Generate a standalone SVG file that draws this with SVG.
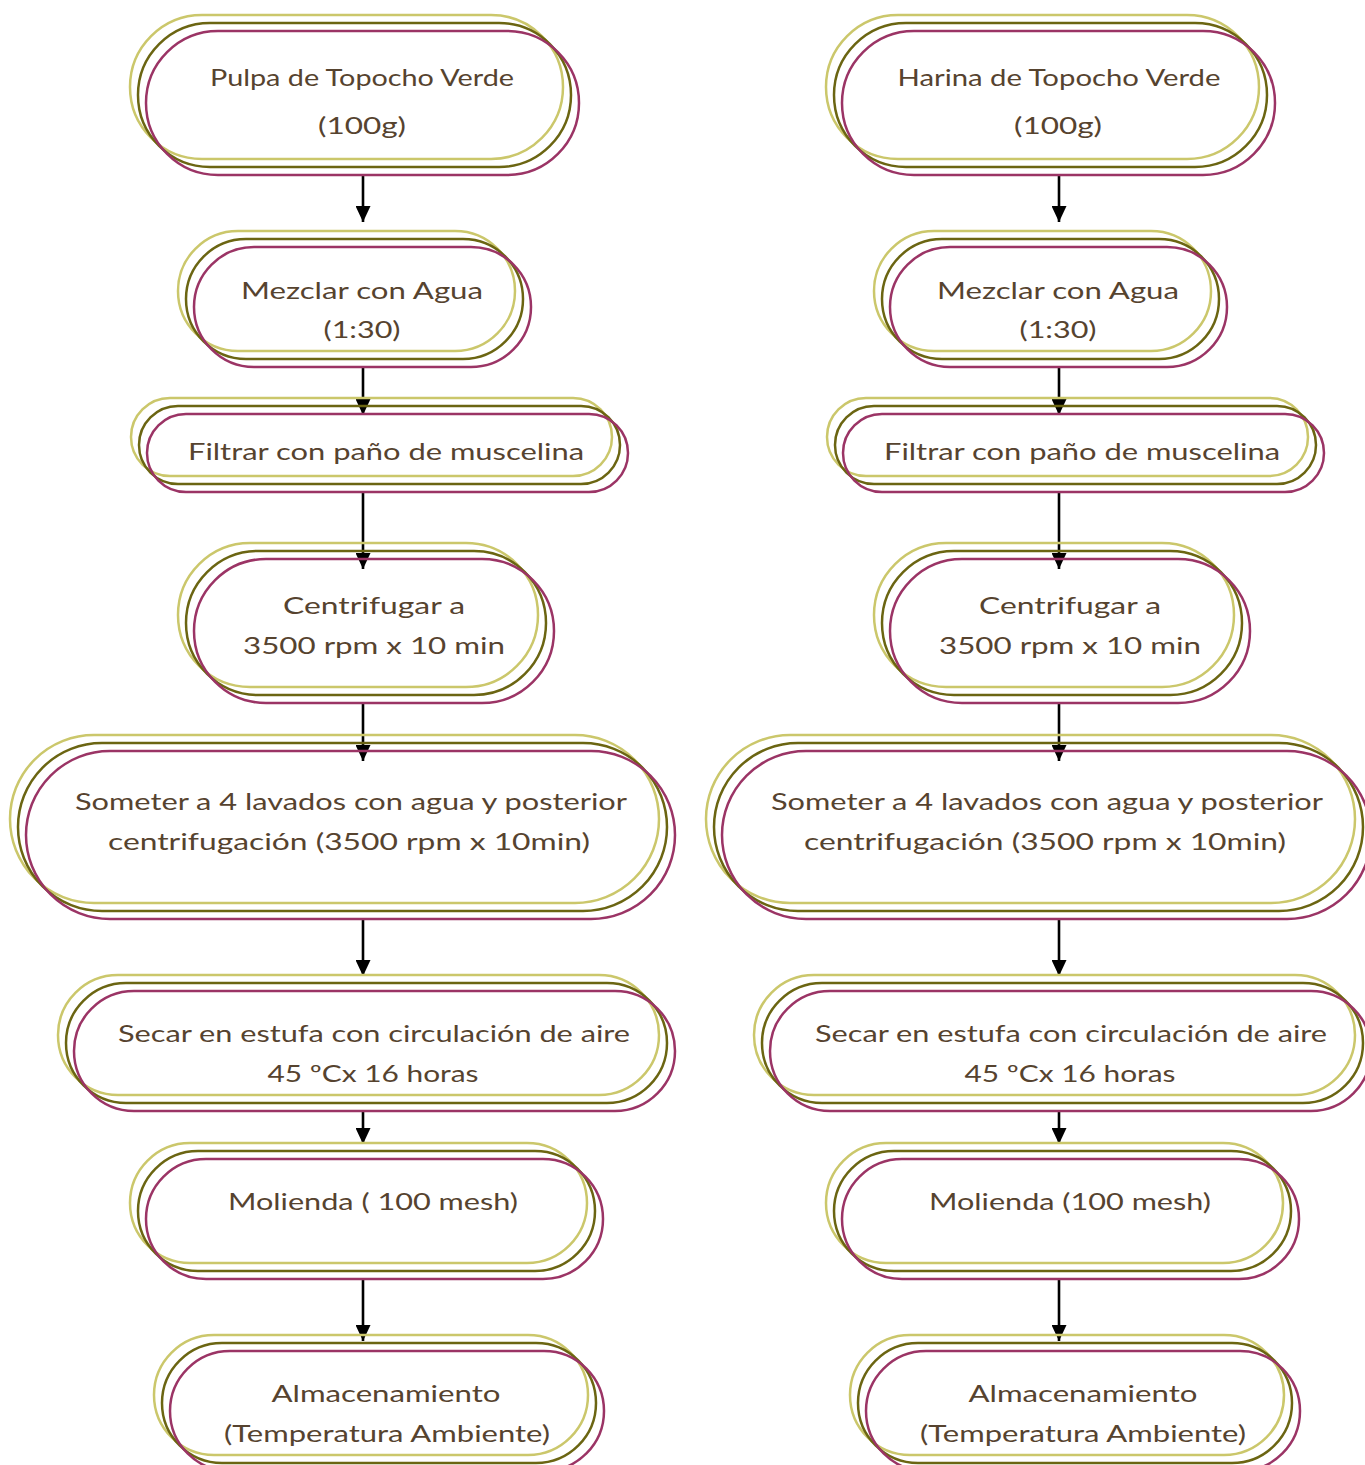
<svg xmlns="http://www.w3.org/2000/svg" width="1365" height="1465" viewBox="0 0 1365 1465">
<style>
.l{fill:none;stroke:#cbc76b;stroke-width:2.5}
.o{fill:none;stroke:#6b6512;stroke-width:2.5}
.m{fill:none;stroke:#9b3465;stroke-width:2.5}
.t{font-family:"Lato","Liberation Sans",sans-serif;font-size:24px;fill:#56432f;text-anchor:middle}
.c{stroke:#000;stroke-width:2.6;fill:none;marker-end:url(#ah)}
</style>
<defs>
<marker id="ah" viewBox="0 0 16 15" refX="16" refY="7.5" markerUnits="userSpaceOnUse" markerWidth="16" markerHeight="15" orient="auto">
<path d="M0,0 L16,7.5 L0,15 z" fill="#000"/>
</marker>
</defs>
<rect width="1365" height="1465" fill="#fff"/>
<g id="connectors">
<line class="c" x1="363" y1="175" x2="363" y2="222"/>
<line class="c" x1="363" y1="367" x2="363" y2="415"/>
<line class="c" x1="363" y1="492" x2="363" y2="569"/>
<line class="c" x1="363" y1="703" x2="363" y2="761"/>
<line class="c" x1="363" y1="919" x2="363" y2="976"/>
<line class="c" x1="363" y1="1111" x2="363" y2="1144"/>
<line class="c" x1="363" y1="1279" x2="363" y2="1341"/>
<line class="c" x1="1059" y1="175" x2="1059" y2="222"/>
<line class="c" x1="1059" y1="367" x2="1059" y2="415"/>
<line class="c" x1="1059" y1="492" x2="1059" y2="569"/>
<line class="c" x1="1059" y1="703" x2="1059" y2="761"/>
<line class="c" x1="1059" y1="919" x2="1059" y2="976"/>
<line class="c" x1="1059" y1="1111" x2="1059" y2="1144"/>
<line class="c" x1="1059" y1="1279" x2="1059" y2="1341"/>
</g>
<g id="L1">
<rect class="l" x="130" y="15" width="433" height="144" rx="72"/>
<rect class="o" x="138" y="23" width="433" height="144" rx="72"/>
<rect class="m" x="146" y="31" width="433" height="144" rx="72"/>
<text class="t" x="362" y="86" textLength="304" lengthAdjust="spacingAndGlyphs">Pulpa de Topocho Verde</text>
<text class="t" x="362" y="134" textLength="88" lengthAdjust="spacingAndGlyphs">(100g)</text>
</g>
<g id="L2">
<rect class="l" x="178" y="231" width="337" height="120" rx="60"/>
<rect class="o" x="186" y="239" width="337" height="120" rx="60"/>
<rect class="m" x="194" y="247" width="337" height="120" rx="60"/>
<text class="t" x="362" y="299" textLength="242" lengthAdjust="spacingAndGlyphs">Mezclar con Agua</text>
<text class="t" x="362" y="338" textLength="77" lengthAdjust="spacingAndGlyphs">(1:30)</text>
</g>
<g id="L3">
<rect class="l" x="131" y="398" width="481" height="78" rx="39"/>
<rect class="o" x="139" y="406" width="481" height="78" rx="39"/>
<rect class="m" x="147" y="414" width="481" height="78" rx="39"/>
<text class="t" x="386" y="460" textLength="396" lengthAdjust="spacingAndGlyphs">Filtrar con paño de muscelina</text>
</g>
<g id="L4">
<rect class="l" x="178" y="543" width="360" height="144" rx="72"/>
<rect class="o" x="186" y="551" width="360" height="144" rx="72"/>
<rect class="m" x="194" y="559" width="360" height="144" rx="72"/>
<text class="t" x="374" y="614" textLength="182" lengthAdjust="spacingAndGlyphs">Centrifugar a</text>
<text class="t" x="374" y="654" textLength="262" lengthAdjust="spacingAndGlyphs">3500 rpm x 10 min</text>
</g>
<g id="L5">
<rect class="l" x="10" y="735" width="649" height="168" rx="84"/>
<rect class="o" x="18" y="743" width="649" height="168" rx="84"/>
<rect class="m" x="26" y="751" width="649" height="168" rx="84"/>
<text class="t" x="351" y="810" textLength="552" lengthAdjust="spacingAndGlyphs">Someter a 4 lavados con agua y posterior</text>
<text class="t" x="349" y="850" textLength="482" lengthAdjust="spacingAndGlyphs">centrifugación (3500 rpm x 10min)</text>
</g>
<g id="L6">
<rect class="l" x="58" y="975" width="601" height="120" rx="60"/>
<rect class="o" x="66" y="983" width="601" height="120" rx="60"/>
<rect class="m" x="74" y="991" width="601" height="120" rx="60"/>
<text class="t" x="374" y="1042" textLength="512" lengthAdjust="spacingAndGlyphs">Secar en estufa con circulación de aire</text>
<text class="t" x="373" y="1082" textLength="211" lengthAdjust="spacingAndGlyphs">45 ºCx 16 horas</text>
</g>
<g id="L7">
<rect class="l" x="130" y="1143" width="457" height="120" rx="60"/>
<rect class="o" x="138" y="1151" width="457" height="120" rx="60"/>
<rect class="m" x="146" y="1159" width="457" height="120" rx="60"/>
<text class="t" x="373" y="1210" textLength="290" lengthAdjust="spacingAndGlyphs">Molienda ( 100 mesh)</text>
</g>
<g id="L8">
<rect class="l" x="154" y="1335" width="434" height="120" rx="60"/>
<rect class="o" x="162" y="1343" width="434" height="120" rx="60"/>
<rect class="m" x="170" y="1351" width="434" height="120" rx="60"/>
<text class="t" x="386" y="1402" textLength="229" lengthAdjust="spacingAndGlyphs">Almacenamiento</text>
<text class="t" x="387" y="1442" textLength="326" lengthAdjust="spacingAndGlyphs">(Temperatura Ambiente)</text>
</g>
<g id="R1">
<rect class="l" x="826" y="15" width="433" height="144" rx="72"/>
<rect class="o" x="834" y="23" width="433" height="144" rx="72"/>
<rect class="m" x="842" y="31" width="433" height="144" rx="72"/>
<text class="t" x="1059" y="86" textLength="323" lengthAdjust="spacingAndGlyphs">Harina de Topocho Verde</text>
<text class="t" x="1058" y="134" textLength="88" lengthAdjust="spacingAndGlyphs">(100g)</text>
</g>
<g id="R2">
<rect class="l" x="874" y="231" width="337" height="120" rx="60"/>
<rect class="o" x="882" y="239" width="337" height="120" rx="60"/>
<rect class="m" x="890" y="247" width="337" height="120" rx="60"/>
<text class="t" x="1058" y="299" textLength="242" lengthAdjust="spacingAndGlyphs">Mezclar con Agua</text>
<text class="t" x="1058" y="338" textLength="77" lengthAdjust="spacingAndGlyphs">(1:30)</text>
</g>
<g id="R3">
<rect class="l" x="827" y="398" width="481" height="78" rx="39"/>
<rect class="o" x="835" y="406" width="481" height="78" rx="39"/>
<rect class="m" x="843" y="414" width="481" height="78" rx="39"/>
<text class="t" x="1082" y="460" textLength="396" lengthAdjust="spacingAndGlyphs">Filtrar con paño de muscelina</text>
</g>
<g id="R4">
<rect class="l" x="874" y="543" width="360" height="144" rx="72"/>
<rect class="o" x="882" y="551" width="360" height="144" rx="72"/>
<rect class="m" x="890" y="559" width="360" height="144" rx="72"/>
<text class="t" x="1070" y="614" textLength="182" lengthAdjust="spacingAndGlyphs">Centrifugar a</text>
<text class="t" x="1070" y="654" textLength="262" lengthAdjust="spacingAndGlyphs">3500 rpm x 10 min</text>
</g>
<g id="R5">
<rect class="l" x="706" y="735" width="649" height="168" rx="84"/>
<rect class="o" x="714" y="743" width="649" height="168" rx="84"/>
<rect class="m" x="722" y="751" width="649" height="168" rx="84"/>
<text class="t" x="1047" y="810" textLength="552" lengthAdjust="spacingAndGlyphs">Someter a 4 lavados con agua y posterior</text>
<text class="t" x="1045" y="850" textLength="482" lengthAdjust="spacingAndGlyphs">centrifugación (3500 rpm x 10min)</text>
</g>
<g id="R6">
<rect class="l" x="754" y="975" width="601" height="120" rx="60"/>
<rect class="o" x="762" y="983" width="601" height="120" rx="60"/>
<rect class="m" x="770" y="991" width="601" height="120" rx="60"/>
<text class="t" x="1071" y="1042" textLength="512" lengthAdjust="spacingAndGlyphs">Secar en estufa con circulación de aire</text>
<text class="t" x="1070" y="1082" textLength="211" lengthAdjust="spacingAndGlyphs">45 ºCx 16 horas</text>
</g>
<g id="R7">
<rect class="l" x="826" y="1143" width="457" height="120" rx="60"/>
<rect class="o" x="834" y="1151" width="457" height="120" rx="60"/>
<rect class="m" x="842" y="1159" width="457" height="120" rx="60"/>
<text class="t" x="1070" y="1210" textLength="282" lengthAdjust="spacingAndGlyphs">Molienda (100 mesh)</text>
</g>
<g id="R8">
<rect class="l" x="850" y="1335" width="434" height="120" rx="60"/>
<rect class="o" x="858" y="1343" width="434" height="120" rx="60"/>
<rect class="m" x="866" y="1351" width="434" height="120" rx="60"/>
<text class="t" x="1083" y="1402" textLength="229" lengthAdjust="spacingAndGlyphs">Almacenamiento</text>
<text class="t" x="1083" y="1442" textLength="326" lengthAdjust="spacingAndGlyphs">(Temperatura Ambiente)</text>
</g>
</svg>
